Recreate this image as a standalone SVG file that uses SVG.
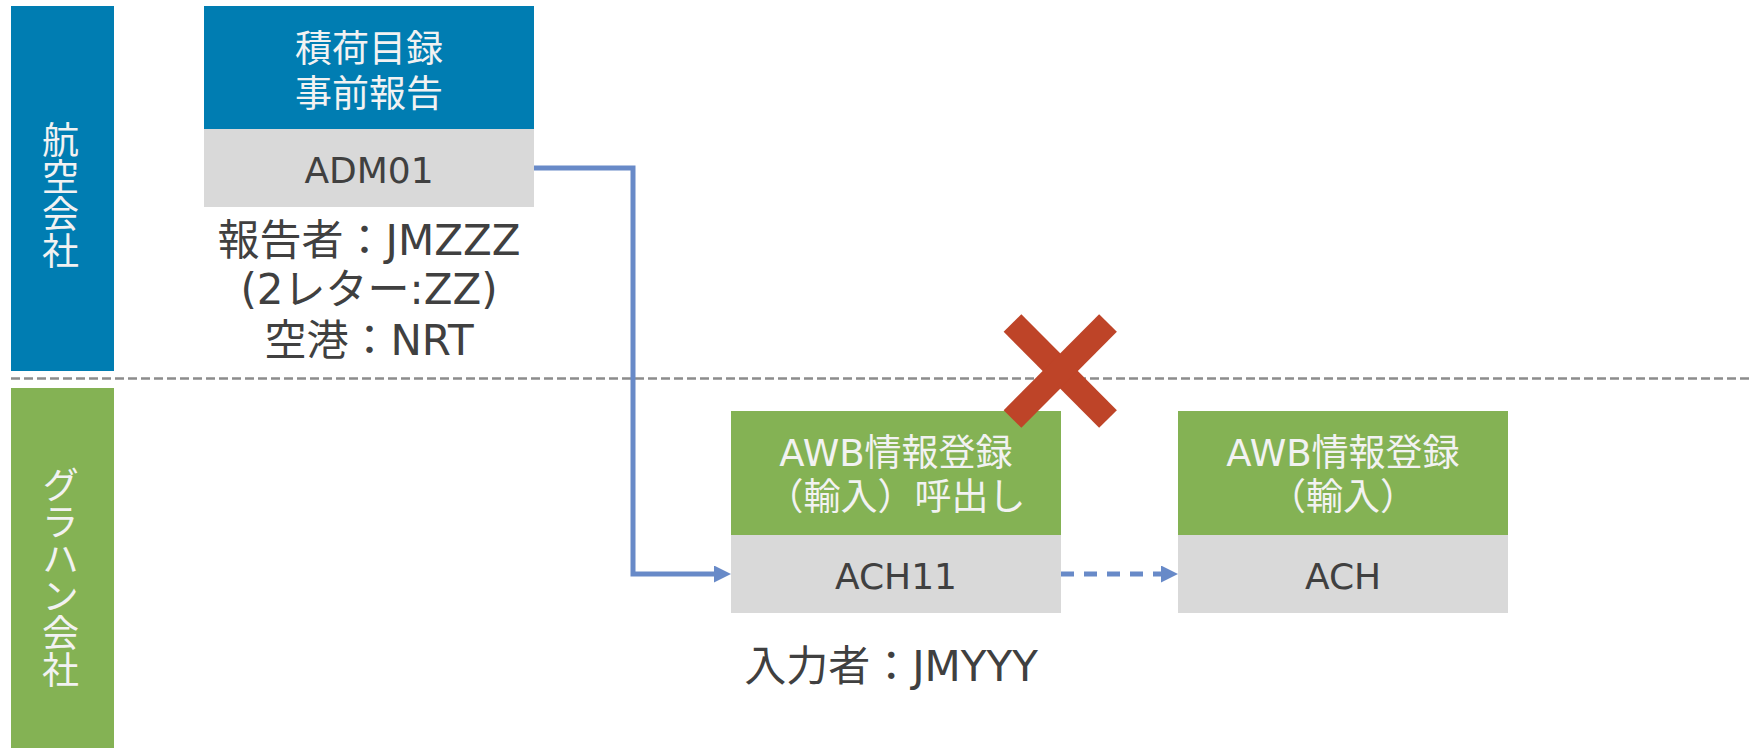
<svg xmlns="http://www.w3.org/2000/svg" width="1752" height="748" viewBox="0 0 1752 748">
<style>
text{font-family:"DejaVu Sans","Noto Sans CJK JP",sans-serif;text-anchor:middle}
.hdr{fill:#F2F2F2;font-size:37px}
.code{fill:#404040;font-size:36px}
.lbl{fill:#404040;font-size:42px}
.lane{fill:#F2F2F2;font-size:37px;writing-mode:vertical-rl}
.gray{fill:#D9D9D9}
.blue{fill:#007DB2}
.green{fill:#84B254}
.conn{fill:none;stroke:#688AC8;stroke-width:5}
</style>
<defs>
<marker id="arr" markerUnits="userSpaceOnUse" markerWidth="18" markerHeight="18" refX="0" refY="8.5" orient="auto">
<path d="M0,0 L17,8.5 L0,17 z" fill="#688AC8"/>
</marker>
</defs>
<g id="lane-airline">
<rect class="blue" x="11" y="6" width="103" height="365"/>
<text class="lane" x="57" y="195">航空会社</text>
</g>
<g id="lane-handler">
<rect class="green" x="11" y="388" width="103" height="360"/>
<text class="lane" x="57" y="577">グラハン会社</text>
</g>
<g id="separator">
<line x1="11" y1="378.5" x2="1752" y2="378.5" stroke="#8C8C8C" stroke-width="2.5" stroke-dasharray="9,4"/>
</g>
<g id="connectors">
<path class="conn" d="M534,168 H633 V574 H714" marker-end="url(#arr)"/>
<path class="conn" d="M1061,574 H1161" stroke-width="6" stroke-dasharray="13,10" marker-end="url(#arr)"/>
</g>
<g id="node-adm01">
<rect class="blue" x="204" y="6" width="330" height="123"/>
<rect class="gray" x="204" y="129" width="330" height="78"/>
<text class="hdr" x="369" y="62">積荷目録</text>
<text class="hdr" x="369" y="107">事前報告</text>
<text class="code" x="369" y="183">ADM01</text>
</g>
<g id="label-adm01">
<text class="lbl" x="369" y="255">報告者：JMZZZ</text>
<text class="lbl" x="369" y="304">(2レター:ZZ)</text>
<text class="lbl" x="369" y="355">空港：NRT</text>
</g>
<g id="node-ach11">
<rect class="green" x="731" y="411" width="330" height="124"/>
<rect class="gray" x="731" y="535" width="330" height="78"/>
<text class="hdr" x="896" y="466">AWB情報登録</text>
<text class="hdr" x="896" y="510">（輸入）呼出し</text>
<text class="code" x="896" y="589">ACH11</text>
</g>
<g id="label-ach11">
<text class="lbl" x="891" y="681" font-size="43">入力者：JMYYY</text>
</g>
<g id="node-ach">
<rect class="green" x="1178" y="411" width="330" height="124"/>
<rect class="gray" x="1178" y="535" width="330" height="78"/>
<text class="hdr" x="1343" y="466">AWB情報登録</text>
<text class="hdr" x="1343" y="510">（輸入）</text>
<text class="code" x="1343" y="589">ACH</text>
</g>
<g id="cross">
<line x1="1012.5" y1="323" x2="1108" y2="419" stroke="#BE4428" stroke-width="25"/>
<line x1="1108" y1="323" x2="1012.5" y2="419" stroke="#BE4428" stroke-width="25"/>
</g>
</svg>
